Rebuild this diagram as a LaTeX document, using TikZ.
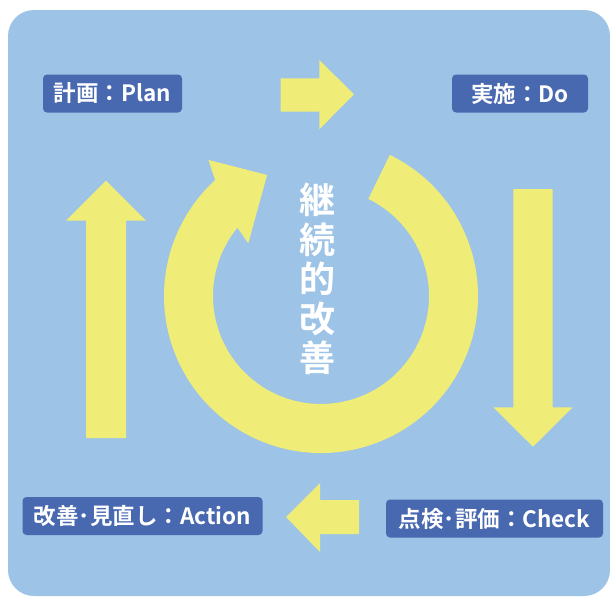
\documentclass[tikz,border=0pt]{standalone}
\usepackage{fontspec}
\newfontfamily\jpfont{Noto Sans CJK JP}[BoldFont={Noto Sans CJK JP Bold}]
\definecolor{bgblue}{HTML}{9DC3E6}
\definecolor{boxblue}{HTML}{4868B0}
\definecolor{arrowyellow}{HTML}{F0EC78}
\begin{document}
\begin{tikzpicture}[x=1pt,y=-1pt,
  label box/.style={fill=boxblue, rounded corners=4pt, text=white, font=\jpfont\bfseries\fontsize{22.5}{26}\selectfont, inner sep=0pt, anchor=center},
  yarrow/.style={fill=arrowyellow, draw=none}]
\useasboundingbox (0,0) rectangle (610,597);
\fill[white] (0,0) rectangle (610,597);
\fill[bgblue, rounded corners=26pt] (8,10) rectangle (610,596);

% label boxes
\node[label box, minimum width=139pt, minimum height=38pt] (plan) at (112.5,93.5) {計画：Plan};
\node[label box, minimum width=136pt, minimum height=38pt] (do) at (520,93.5) {実施：Do};
\node[label box, minimum width=240pt, minimum height=38pt] (act) at (142.5,516) {改善･見直し：Action};
\node[label box, minimum width=217pt, minimum height=38pt] (chk) at (494.5,518.5) {点検･評価：Check};

% straight block arrows
\fill[yarrow] (280.7,78.3) -- (319.3,78.3) -- (319.3,60) -- (354,94.3) -- (319.3,129.3) -- (319.3,111.7) -- (280.7,111.7) -- cycle;
\fill[yarrow] (513.3,189) -- (552.7,189) -- (552.7,407.3) -- (572.7,407.3) -- (533,446.7) -- (493.3,407.3) -- (513.3,407.3) -- cycle;
\fill[yarrow] (359,500) -- (320,500) -- (320,483) -- (286,517) -- (320,552) -- (320,534) -- (359,534) -- cycle;
\fill[yarrow] (86,438) -- (86,220.7) -- (66,220.7) -- (106,180.7) -- (146,220.7) -- (126,220.7) -- (126,438) -- cycle;

% circular arrow
\begin{scope}[shift={(321,296)}]
\fill[yarrow] (64:157pt) arc[start angle=64, end angle=-227.6, radius=157pt]
  -- (129.6:176.6pt) -- (114:132.5pt) -- (144.1:89.8pt) -- (140.7:108pt)
  arc[start angle=-219.3, end angle=64, radius=108pt] -- cycle;
\end{scope}

\node[text=white, font=\jpfont\bfseries\fontsize{36}{39.5}\selectfont, align=center, inner sep=0pt] (center) at (317,279) {継\\続\\的\\改\\善};
\end{tikzpicture}
\end{document}
